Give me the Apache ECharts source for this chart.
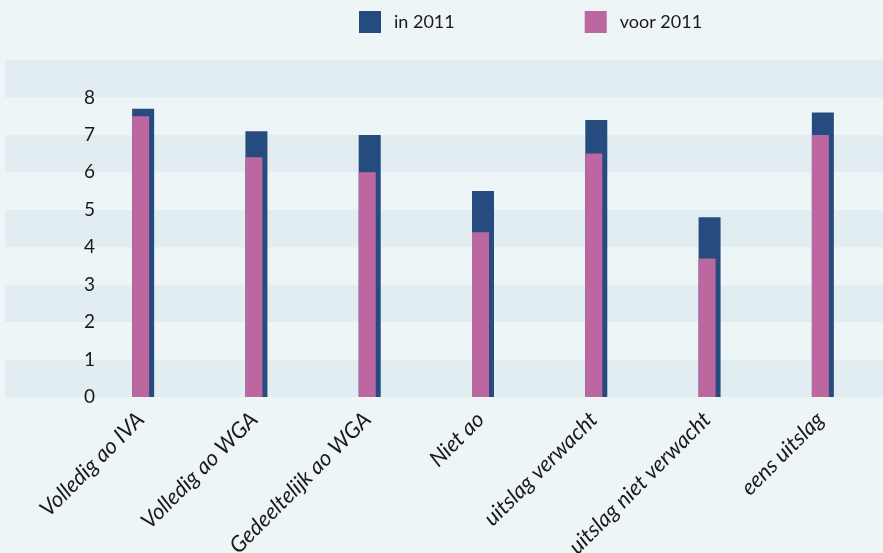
<!DOCTYPE html>
<html>
<head>
<meta charset="utf-8">
<script src="https://cdn.jsdelivr.net/npm/echarts@6/dist/echarts.min.js"></script>
<style>
  html, body { margin: 0; padding: 0; background: #edf5f7; }
  #chart { width: 883px; height: 553px; }
</style>
</head>
<body>
<div id="chart"></div>
<script>
// categorieën en waarden
const categories = [
    "Volledig ao IVA",
    "Volledig ao WGA",
    "Gedeeltelijk ao WGA",
    "Niet ao",
    "uitslag verwacht",
    "uitslag niet verwacht",
    "eens uitslag"
]
const in2011 = [7.7, 7.1, 7.0, 5.5, 7.4, 4.8, 7.6]
const voor2011 = [7.5, 6.4, 6.0, 4.4, 6.5, 3.7, 7.0]
const yTicks = [0, 1, 2, 3, 4, 5, 6, 7, 8]

const blue = "#264b7f"
const pink = "#bd67a0"

const chart = echarts.init(document.getElementById("chart"))

const option = {
    backgroundColor: "#edf5f7",
    animation: false,
    legend: {
        left: 354,
        top: 6,
        itemWidth: 22,
        itemHeight: 22,
        itemGap: 130,
        icon: "rect",
        textStyle: {
            fontFamily: "Lato",
            fontSize: 18,
            color: "#1a1a1a",
            padding: [0, 0, 0, 8],
        },
        data: ["in 2011", "voor 2011"],
    },
    grid: [
        // achtergrond met banden
        { left: 5, right: 0, top: 60, bottom: 156, outerBoundsMode: "none" },
        // staven (labels mogen buiten beeld lopen)
        { left: 84, right: 6, top: 60, bottom: 156, outerBoundsMode: "none" },
    ],
    xAxis: [
        { type: "value", gridIndex: 0, show: false, min: 0, max: 1 },
        {
            type: "category",
            gridIndex: 1,
            data: categories,
            axisLine: { show: false },
            axisTick: { show: false },
            axisLabel: {
                rotate: 45,
                margin: 19,
                interval: 0,
                fontFamily: "Lato",
                fontStyle: "italic",
                fontSize: 22,
                color: "#1a1a1a",
            },
        },
    ],
    yAxis: [
        {
            type: "value",
            gridIndex: 0,
            min: 0,
            max: 9,
            interval: 1,
            axisLine: { show: false },
            axisTick: { show: false },
            splitLine: { show: false },
            splitArea: {
                show: true,
                areaStyle: { color: ["#e2edf2", "#edf5f7"] },
            },
            axisLabel: {
                inside: true,
                align: "right",
                margin: 90,
                fontFamily: "Lato",
                fontSize: 19,
                color: "#1a1a1a",
                formatter: v => (yTicks.includes(v) ? String(v) : ""),
            },
        },
        { type: "value", gridIndex: 1, min: 0, max: 9, interval: 1, show: false },
    ],
    series: [
        {
            name: "in 2011",
            type: "bar",
            xAxisIndex: 1,
            yAxisIndex: 1,
            barWidth: 22,
            barGap: "-100%",
            itemStyle: { color: blue },
            data: in2011,
        },
        {
            name: "voor 2011",
            type: "bar",
            xAxisIndex: 1,
            yAxisIndex: 1,
            barWidth: 17,
            itemStyle: { color: pink },
            data: voor2011,
        },
    ],
}

chart.setOption(option)
</script>
</body>
</html>
